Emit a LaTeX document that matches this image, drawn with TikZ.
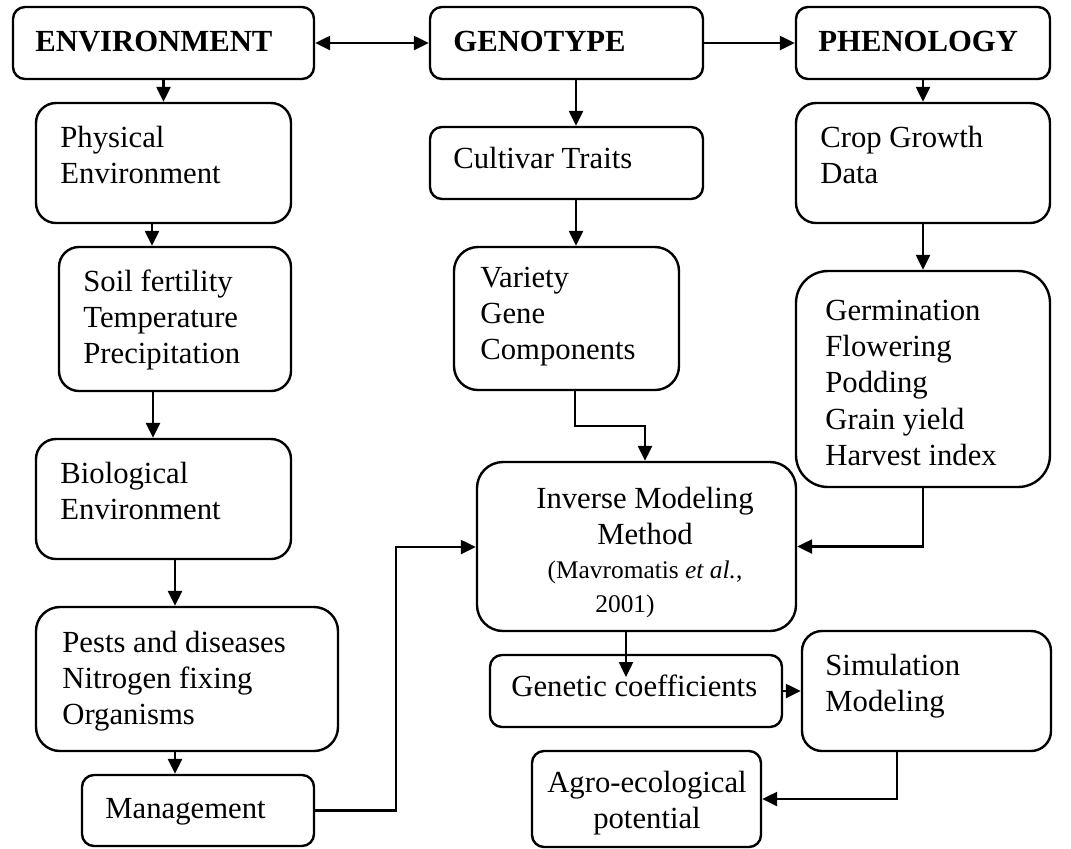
\documentclass[tikz,border=0pt]{standalone}
\usepackage{fontspec}
\setmainfont{Liberation Serif}
\usetikzlibrary{arrows.meta}
\newcommand\mainfs{\fontsize{15.35}{18.2}\selectfont}
\newcommand\mylines[1]{\parbox[t]{200pt}{\raggedright #1}}
\newcommand\myclines[1]{\parbox[t]{200pt}{\centering #1}}
\begin{document}
\begin{tikzpicture}[x=0.5pt,y=-0.5pt,
  box/.style={draw, line width=1.2pt, rounded corners=#1, inner sep=0pt},
  box/.default=6pt,
  txt/.style={inner sep=0pt, anchor=base west, font=\mainfs},
  ctxt/.style={inner sep=0pt, anchor=base, font=\mainfs},
  arr/.style={line width=1.2pt, -{Triangle[length=7.5pt,width=7pt]}},
  darr/.style={line width=1.2pt, {Triangle[length=7.5pt,width=7pt]}-{Triangle[length=7.5pt,width=7pt]}}]
\useasboundingbox (0,0) rectangle (1071,848);
% boxes
\node[box, minimum width=150.5pt, minimum height=36pt] (env) at (163.5,43) {};
\node[box, minimum width=136.5pt, minimum height=36pt] (gen) at (566.5,43) {};
\node[box, minimum width=127pt, minimum height=36pt] (phen) at (923,43) {};
\node[box=10pt, minimum width=127.5pt, minimum height=60pt] (phys) at (163.5,163) {};
\node[box=10pt, minimum width=116pt, minimum height=72pt] (soil) at (175,319) {};
\node[box=10pt, minimum width=127.5pt, minimum height=60pt] (bio) at (163.5,499) {};
\node[box=12pt, minimum width=151pt, minimum height=72pt] (pests) at (187,679) {};
\node[box, minimum width=116pt, minimum height=35.5pt] (mgmt) at (198,810.5) {};
\node[box, minimum width=136.5pt, minimum height=36pt] (cult) at (566.5,163) {};
\node[box=12pt, minimum width=112.5pt, minimum height=71.5pt] (var) at (566.5,318.5) {};
\node[box=13pt, minimum width=159.5pt, minimum height=84.5pt] (inv) at (636.5,546.5) {};
\node[box=10pt, minimum width=127pt, minimum height=60pt] (crop) at (923,163) {};
\node[box=16pt, minimum width=127pt, minimum height=108pt] (germ) at (923,379) {};
\node[box, minimum width=146pt, minimum height=36pt] (gc) at (636,691) {};
\node[box=10pt, minimum width=124.5pt, minimum height=60pt] (sim) at (926.5,691) {};
\node[box, minimum width=114.5pt, minimum height=48pt] (agro) at (646.5,799) {};
% texts
\node[txt] (envt) at (35,51) {\textbf{ENVIRONMENT}};
\node[txt] (gent) at (453,51) {\textbf{GENOTYPE}};
\node[txt] (phent) at (818,51) {\textbf{PHENOLOGY}};
\node[txt] (physt) at (60,147) {\mylines{Physical\\Environment}};
\node[txt] (soilt) at (83,291) {\mylines{Soil fertility\\Temperature\\Precipitation}};
\node[txt] (biot) at (60,483) {\mylines{Biological\\Environment}};
\node[txt] (pestst) at (62,652) {\mylines{Pests and diseases\\Nitrogen fixing\\Organisms}};
\node[txt] (mgmtt) at (105,818) {Management};
\node[txt] (cultt) at (453,168) {Cultivar Traits};
\node[txt] (vart) at (480,287) {\mylines{Variety\\Gene\\Components}};
\node[txt] (cropt) at (820,147) {\mylines{Crop Growth\\Data}};
\node[txt] (germt) at (825,320) {\mylines{Germination\\Flowering\\Podding\\Grain yield\\Harvest index}};
\node[txt] (gct) at (511,696) {Genetic coefficients};
\node[txt] (simt) at (825,675) {\mylines{Simulation\\Modeling}};
\node[ctxt] (invt) at (645,508) {\myclines{Inverse Modeling\\Method\par\fontsize{12.7}{17}\selectfont (Mavromatis \textit{et al.},\hspace*{20pt}\\2001)\hspace*{20pt}\par}};
\node[ctxt] (agrot) at (647,792) {\myclines{Agro-ecological\\potential}};
% helper coordinates
\coordinate (bendA) at (396,547);
\coordinate (bendB) at (645,426);
\coordinate (tipC) at (626,677);
% connectors
\draw[darr] (env.east) -- (gen.west);
\draw[arr] (gen.east) -- (phen.west);
\draw[arr] (env.south) -- (phys.north);
\draw[arr] ([xshift=-5.75pt]phys.south) -- ([xshift=-5.75pt]phys.south |- soil.north);
\draw[arr] ([xshift=-11pt]soil.south) -- ([xshift=-11pt]soil.south |- bio.north);
\draw[arr] ([xshift=5.75pt]bio.south) -- ([xshift=5.75pt]bio.south |- pests.north);
\draw[arr] ([xshift=-6pt]pests.south) -- ([xshift=-6pt]pests.south |- mgmt.north);
\draw[arr] (mgmt.east) -| (bendA) -- (bendA -| inv.west);
\draw[arr] ([xshift=4.75pt]gen.south) -- ([xshift=4.75pt]gen.south |- cult.north);
\draw[arr] ([xshift=4.75pt]cult.south) -- ([xshift=4.75pt]cult.south |- var.north);
\draw[arr] ([xshift=4.25pt]var.south) |- (bendB) -- (bendB |- inv.north);
\draw[arr] (phen.south) -- (crop.north);
\draw[arr] (crop.south) -- (germ.north);
\draw[arr] (germ.south) |- (inv.east);
\draw[arr] (tipC |- inv.south) -- (tipC);
\draw[arr] (gc.east) -- (sim.west);
\draw[arr] ([xshift=-14.75pt]sim.south) |- (agro.east);
\end{tikzpicture}
\end{document}
